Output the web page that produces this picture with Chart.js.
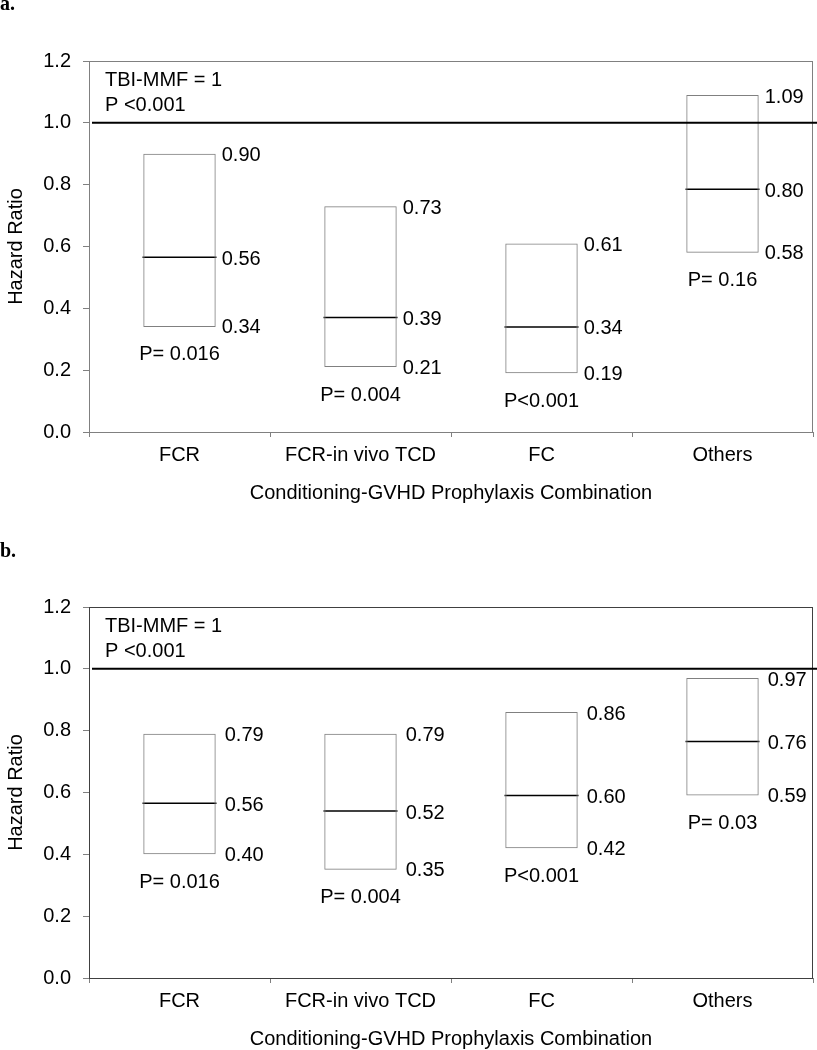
<!DOCTYPE html>
<html>
<head>
<meta charset="utf-8">
<script src="https://cdn.jsdelivr.net/npm/chart.js@4/dist/chart.umd.min.js"></script>
<style>
body { margin: 0; background: #fff; width: 817px; height: 1050px; position: relative; overflow: hidden; }
.panel { position: absolute; left: 0; width: 817px; }
.tag { position: absolute; left: 0; font: bold 20px "Liberation Serif", "Times New Roman", serif; line-height: 23px; }
</style>
</head>
<body>
<div class="panel" style="top:0;height:540px"><canvas id="chartA"></canvas></div>
<div class="panel" style="top:540px;height:510px"><canvas id="chartB"></canvas></div>
<div class="tag" style="top:-8px">a.</div>
<div class="tag" style="top:539px">b.</div>
<script>
// categories on the x axis
const categories = ['FCR', 'FCR-in vivo TCD', 'FC', 'Others'];

// panel a: hazard ratio with 95% CI
const lowerA = [0.34, 0.21, 0.19, 0.58];
const upperA = [0.90, 0.73, 0.61, 1.09];
const medianA = [0.565, 0.37, 0.34, 0.785];
const medianTextA = ['0.56', '0.39', '0.34', '0.80'];
const pTextA = ['P= 0.016', 'P= 0.004', 'P<0.001', 'P= 0.16'];

// panel b
const lowerB = [0.40, 0.35, 0.42, 0.59];
const upperB = [0.79, 0.79, 0.86, 0.97];
const medianB = [0.565, 0.54, 0.59, 0.765];
const medianTextB = ['0.56', '0.52', '0.60', '0.76'];
const pTextB = ['P= 0.016', 'P= 0.004', 'P<0.001', 'P= 0.03'];

const refValue = 1;
const refText = ['TBI-MMF = 1', 'P <0.001'];
const yTicks = [0, 0.2, 0.4, 0.6, 0.8, 1.0, 1.2];

Chart.defaults.font.family = '"Liberation Sans", Arial, sans-serif';
Chart.defaults.color = '#000';

const boxLabels = {
  id: 'boxLabels',
  afterDatasetsDraw(chart, args, o) {
    const ctx = chart.ctx, area = chart.chartArea, y = chart.scales.y;
    const bars = chart.getDatasetMeta(0).data;
    ctx.save();
    // plot frame
    ctx.strokeStyle = o.frame;
    ctx.lineWidth = 1;
    ctx.strokeRect(area.left + 0.5, area.top + 0.5, area.width - 1, area.height);
    // reference line at HR = 1
    const ry = y.getPixelForValue(refValue);
    ctx.strokeStyle = '#000';
    ctx.lineWidth = 2;
    ctx.beginPath();
    ctx.moveTo(area.left + 3, ry);
    ctx.lineTo(chart.width, ry);
    ctx.stroke();

    ctx.fillStyle = '#000';
    ctx.font = '20px "Liberation Sans", Arial, sans-serif';
    ctx.textBaseline = 'middle';
    ctx.textAlign = 'left';
    ctx.fillText(refText[0], area.left + 16, area.top + 19);
    ctx.fillText(refText[1], area.left + 16, area.top + 44);

    bars.forEach((bar, i) => {
      const p = bar.getProps(['x', 'width'], true);
      const right = p.x + p.width / 2 + o.gap;
      ctx.textAlign = 'left';
      ctx.fillText(o.upper[i].toFixed(2), right, y.getPixelForValue(o.upper[i]) + 2);
      ctx.fillText(o.medianText[i], right, y.getPixelForValue(o.median[i]) + 2);
      ctx.fillText(o.lower[i].toFixed(2), right, y.getPixelForValue(o.lower[i]) + 1);
      ctx.textAlign = 'center';
      ctx.fillText(o.pText[i], p.x, y.getPixelForValue(o.lower[i]) + 28);
    });
    ctx.restore();
  }
};

function makeChart(id, lower, upper, median, medianText, pText, pad, gap, frame) {
  return new Chart(document.getElementById(id), {
    type: 'bar',
    data: {
      labels: categories,
      datasets: [
        {
          data: lower.map((v, i) => [v, upper[i]]),
          backgroundColor: 'rgba(255,255,255,0)',
          borderColor: '#808080',
          borderWidth: 1,
          borderSkipped: false,
          barPercentage: 0.4,
          categoryPercentage: 1
        },
        {
          type: 'line',
          data: median,
          showLine: false,
          pointStyle: 'line',
          pointRadius: 37,
          pointBorderWidth: 1.5,
          pointBorderColor: '#000',
          borderColor: '#000'
        }
      ]
    },
    options: {
      responsive: true,
      maintainAspectRatio: false,
      animation: false,
      events: [],
      layout: { autoPadding: false, padding: { left: 0, right: 4, top: pad.top, bottom: pad.bottom } },
      plugins: {
        legend: { display: false },
        tooltip: { enabled: false },
        boxLabels: { lower, upper, median, medianText, pText, gap, frame }
      },
      scales: {
        x: {
          grid: { offset: true, drawOnChartArea: false, tickLength: 5, color: '#808080' },
          border: { display: false },
          ticks: { padding: 6, font: { size: 20 } },
          title: {
            display: true,
            text: 'Conditioning-GVHD Prophylaxis Combination',
            font: { size: 20, lineHeight: 1 },
            padding: { top: 4, bottom: 0 }
          },
          afterFit(scale) { scale.height = 71; }
        },
        y: {
          min: 0,
          max: 1.2,
          afterBuildTicks(scale) { scale.ticks = yTicks.map(v => ({ value: v })); },
          grid: { drawOnChartArea: false, tickLength: 6, color: '#808080' },
          border: { display: false },
          ticks: { padding: 12, font: { size: 20 }, callback: v => v.toFixed(1) },
          title: { display: true, text: 'Hazard Ratio', font: { size: 20 } },
          afterFit(scale) { scale.width = 89; }
        }
      }
    },
    plugins: [boxLabels]
  });
}

makeChart('chartA', lowerA, upperA, medianA, medianTextA, pTextA, { top: 61, bottom: 37 }, 6, '#808080');
makeChart('chartB', lowerB, upperB, medianB, medianTextB, pTextB, { top: 67, bottom: 1 }, 9, '#404040');
</script>
</body>
</html>
